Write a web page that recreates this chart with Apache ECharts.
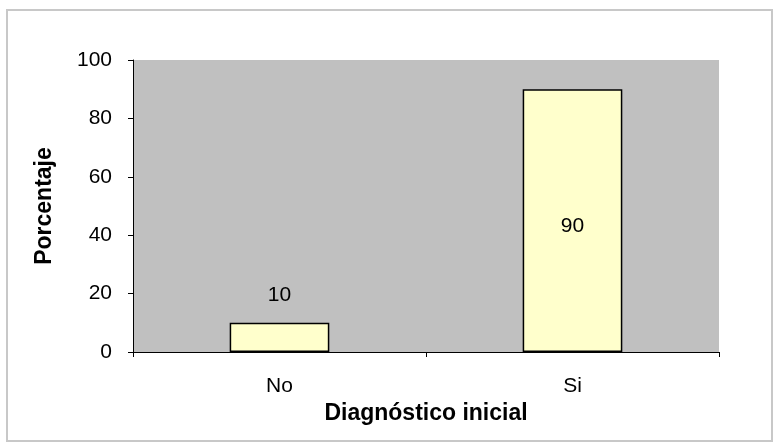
<!DOCTYPE html>
<html>
<head>
<meta charset="utf-8">
<script src="https://cdn.jsdelivr.net/npm/echarts@6/dist/echarts.min.js"></script>
<style>
  html, body { margin: 0; padding: 0; background: #ffffff; }
  #frame { position: absolute; left: 6px; top: 9px; width: 763px; height: 429px; border: 2px solid #c8c8c8; }
  #chart { position: absolute; left: 0; top: 0; width: 779px; height: 448px; }
</style>
</head>
<body>
<div id="frame"></div>
<div id="chart"></div>
<script>
// Diagnóstico inicial: porcentaje por respuesta
const categories = ['No', 'Si'];
const percentages = [10, 90];
const yTicks = [0, 20, 40, 60, 80, 100];

const chart = echarts.init(document.getElementById('chart'), null, { renderer: 'canvas' });

const font = '"Liberation Sans", Arial, sans-serif';

chart.setOption({
  animation: false,
  backgroundColor: 'transparent',
  grid: { left: 133, right: 60, top: 60, bottom: 96, show: true, backgroundColor: '#c0c0c0', borderWidth: 0 },
  xAxis: {
    type: 'category',
    data: categories,
    name: 'Diagnóstico inicial',
    nameLocation: 'middle',
    nameGap: 42,
    nameTextStyle: { fontFamily: font, fontSize: 23, fontWeight: 'bold', color: '#000' },
    axisLine: { lineStyle: { color: '#000', width: 1 } },
    axisTick: { show: true, length: 5, alignWithLabel: false, lineStyle: { color: '#000' } },
    axisLabel: { fontFamily: font, fontSize: 21, color: '#000', margin: 24 },
    splitLine: { show: false }
  },
  yAxis: {
    type: 'value',
    min: yTicks[0],
    max: yTicks[yTicks.length - 1],
    interval: 20,
    name: 'Porcentaje',
    nameLocation: 'middle',
    nameGap: 77,
    nameRotate: 90,
    nameTextStyle: { fontFamily: font, fontSize: 23, fontWeight: 'bold', color: '#000' },
    axisLine: { show: true, lineStyle: { color: '#000', width: 1 } },
    axisTick: { show: true, length: 5, lineStyle: { color: '#000' } },
    axisLabel: { fontFamily: font, fontSize: 21, color: '#000', margin: 21 },
    splitLine: { show: false }
  },
  series: [{
    type: 'bar',
    data: percentages.map((v, i) => ({
      value: v,
      label: i === 0
        ? { show: true, position: 'top', distance: 17 }
        : { show: true, position: 'inside', offset: [0, 6] }
    })),
    barWidth: '34%',
    itemStyle: { color: '#ffffcc', borderColor: '#000', borderWidth: 1.5 },
    label: { fontFamily: font, fontSize: 21, color: '#000' }
  }]
});
</script>
</body>
</html>
